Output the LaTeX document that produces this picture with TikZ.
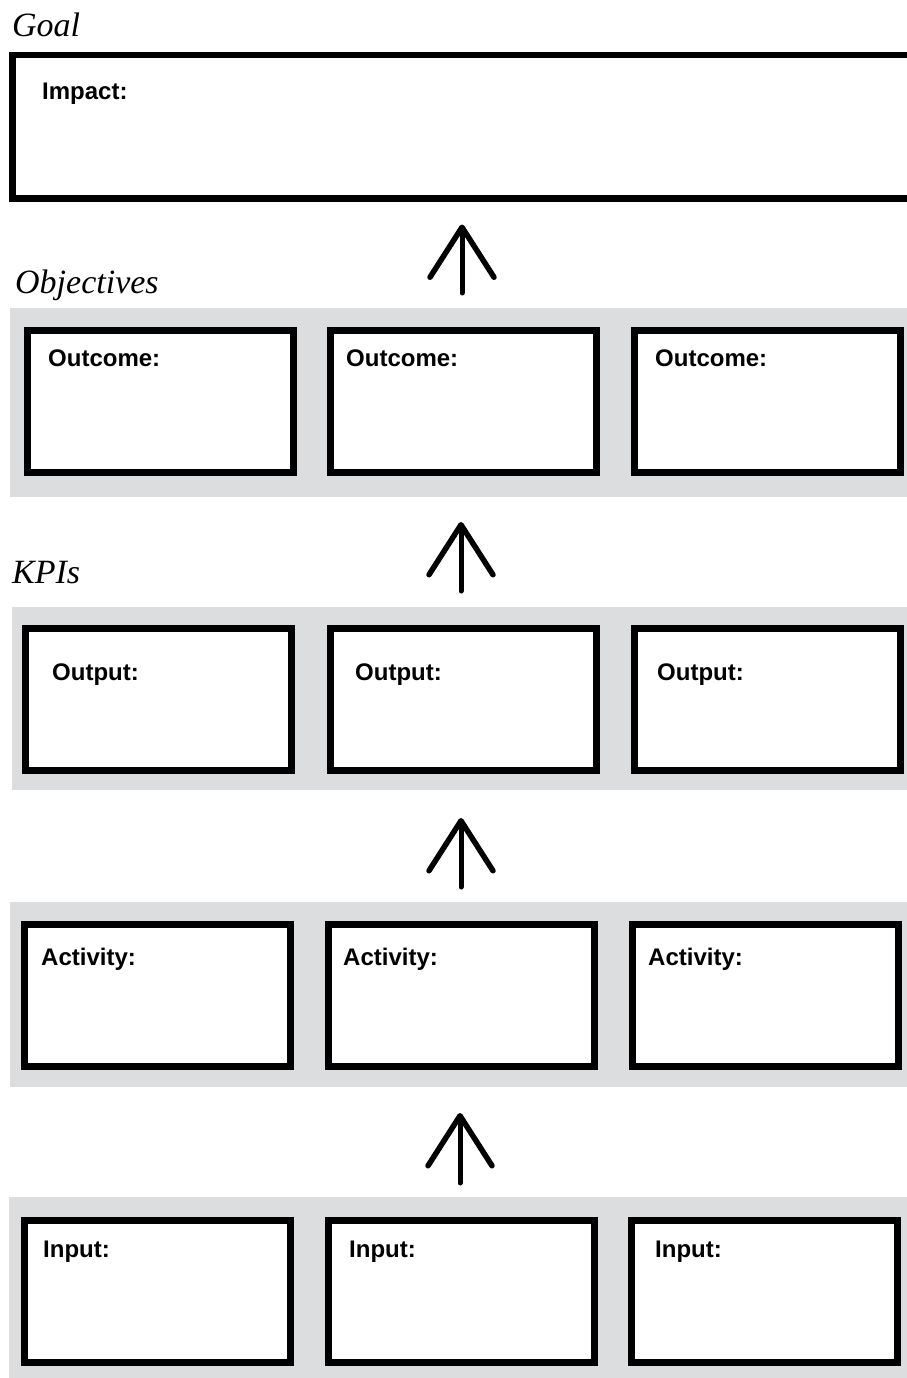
\documentclass[tikz,border=0pt]{standalone}
\usepackage{fontspec}
\setmainfont{Liberation Serif}
\setsansfont{Liberation Sans}
\usetikzlibrary{arrows.meta}
\definecolor{bandgray}{HTML}{DCDDDF}
\tikzset{
  band/.style={fill=bandgray, draw=none, inner sep=0pt, outer sep=0pt, anchor=north west},
  box/.style={draw=black, line width=7pt, fill=white, inner sep=0pt, minimum width=266pt, minimum height=142pt},
  lab/.style={anchor=base west, inner sep=0pt, font=\sffamily\bfseries\fontsize{24}{28}\selectfont},
  head/.style={anchor=base west, inner sep=0pt, font=\rmfamily\itshape\fontsize{34}{38}\selectfont},
  conn/.style={line width=5pt, line cap=round, -{Straight Barb[length=50pt, width=64pt, round, line width=5.5pt]}}
}
\begin{document}
\begin{tikzpicture}[x=1pt, y=-1pt]
\useasboundingbox (0,0) rectangle (907,1378);
% bands
\node[band, minimum width=897pt, minimum height=189pt] (objband) at (10,308) {};
\node[band, minimum width=895pt, minimum height=183pt] (kpiband) at (12,607) {};
\node[band, minimum width=897pt, minimum height=185pt] (actband) at (10,902) {};
\node[band, minimum width=898pt, minimum height=185pt] (inband) at (9,1197) {};
% headers
\node[head] (goal) at (12,37) {Goal};
\node[head] (objectives) at (15,293) {Objectives};
\node[head] (kpis) at (12,583) {KPIs};
% impact box
\node[box, minimum width=908pt, anchor=north west, line width=6.5pt, minimum height=143pt] (impact) at (9,52) {};
\node[lab] (impactl) at (42,100) {Impact:};
% outcome row
\node[box] (oc1) at (160,401) {};
\node[box] (oc2) at (463.5,401) {};
\node[box] (oc3) at (767.5,401) {};
\node[lab] (oc1l) at (48,366) {Outcome:};
\node[lab] (oc2l) at (346,366) {Outcome:};
\node[lab] (oc3l) at (655,366) {Outcome:};
% output row
\node[box] (op1) at (158.5,699) {};
\node[box] (op2) at (463,699) {};
\node[box] (op3) at (767,699) {};
\node[lab] (op1l) at (52,680) {Output:};
\node[lab] (op2l) at (355,680) {Output:};
\node[lab] (op3l) at (657,680) {Output:};
% activity row
\node[box] (ac1) at (157.5,995.5) {};
\node[box] (ac2) at (461,995.5) {};
\node[box] (ac3) at (765,995.5) {};
\node[lab] (ac1l) at (41,965) {Activity:};
\node[lab] (ac2l) at (343,965) {Activity:};
\node[lab] (ac3l) at (648,965) {Activity:};
% input row
\node[box] (in1) at (157,1291) {};
\node[box] (in2) at (461,1291) {};
\node[box] (in3) at (764.5,1291) {};
\node[lab] (in1l) at (43,1257) {Input:};
\node[lab] (in2l) at (349,1257) {Input:};
\node[lab] (in3l) at (655,1257) {Input:};
% arrows
\coordinate (a1) at (462,0);
\coordinate (a2) at (461,0);
\coordinate (a3) at (461,0);
\coordinate (a4) at (460,0);
\draw[conn, shorten <=15pt, shorten >=23pt] (objband.north -| a1) -- (impact.south -| a1);
\draw[conn, shorten <=16pt, shorten >=25pt] (kpiband.north -| a2) -- (objband.south -| a2);
\draw[conn, shorten <=15pt, shorten >=28pt] (actband.north -| a3) -- (kpiband.south -| a3);
\draw[conn, shorten <=14pt, shorten >=26pt] (inband.north -| a4) -- (actband.south -| a4);
\end{tikzpicture}
\end{document}
